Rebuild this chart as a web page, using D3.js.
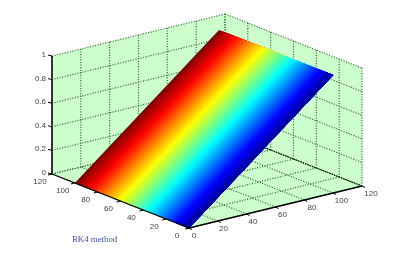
<!DOCTYPE html>
<html>
<head>
<meta charset="utf-8">
<script src="https://cdn.jsdelivr.net/npm/d3@7.9.0/dist/d3.min.js"></script>
<style>
  html, body { margin: 0; padding: 0; background: #fff; }
  svg { display: block; }
</style>
</head>
<body>
<svg width="413" height="267"></svg>
<script>
const xTicks = [0, 20, 40, 60, 80, 100, 120];
const yTicks = [0, 20, 40, 60, 80, 100, 120];
const zTicks = [0, 0.2, 0.4, 0.6, 0.8, 1];

// surface corners: x runs 0-100, y runs 0-100, height follows x
const surfaceX = [0, 100];
const surfaceY = [0, 100];
const surfaceZ = [0, 1];

// jet colormap stops, low to high
const jetStops = ["#00008f", "#0000ff", "#00ffff", "#ffff00", "#ff0000", "#800000"];
const jetPos = [0, 0.11, 0.36, 0.61, 0.86, 1];
const bandCount = 64;

const root = d3.select("svg");

// the reference is a slightly soft bitmap
root.append("defs").append("filter")
  .attr("id", "soft")
  .append("feGaussianBlur")
  .attr("stdDeviation", 0.35);

const svg = root.append("g").attr("filter", "url(#soft)");

// oblique projection, front corner is the origin
const x2h = d3.scaleLinear().domain([0, 120]).range([189, 362]);
const x2v = d3.scaleLinear().domain([0, 120]).range([228, 186]);
const y2h = d3.scaleLinear().domain([0, 120]).range([0, -137]);
const y2v = d3.scaleLinear().domain([0, 120]).range([0, -54]);
const z2v = d3.scaleLinear().domain([0, 1]).range([0, -118]);

const project = (x, y, z) => [x2h(x) + y2h(y), x2v(x) + y2v(y) + z2v(z)];
const line = d3.line();
const poly = pts => line(pts) + "Z";

const color = d3.scaleLinear().domain(jetPos).range(jetStops).clamp(true);

// walls and floor
const walls = svg.append("g").attr("fill", "#ccffcc").attr("stroke", "none");
walls.append("path").attr("d", poly([project(0, 120, 0), project(120, 120, 0), project(120, 120, 1), project(0, 120, 1)]));
walls.append("path").attr("d", poly([project(120, 120, 0), project(120, 0, 0), project(120, 0, 1), project(120, 120, 1)]));
walls.append("path").attr("d", poly([project(0, 0, 0), project(120, 0, 0), project(120, 120, 0), project(0, 120, 0)]));

// dotted grid
const gridLines = [];
xTicks.forEach(t => {
  gridLines.push([project(t, 0, 0), project(t, 120, 0)]);
  gridLines.push([project(t, 120, 0), project(t, 120, 1)]);
});
yTicks.forEach(t => {
  gridLines.push([project(0, t, 0), project(120, t, 0)]);
  gridLines.push([project(120, t, 0), project(120, t, 1)]);
});
zTicks.forEach(t => {
  gridLines.push([project(0, 120, t), project(120, 120, t)]);
  gridLines.push([project(120, 120, t), project(120, 0, t)]);
});
svg.append("g")
  .selectAll("path")
  .data(gridLines)
  .enter()
  .append("path")
  .attr("d", d => line(d))
  .attr("fill", "none")
  .attr("stroke", "#3a6a3a")
  .attr("stroke-width", 1.2)
  .attr("stroke-dasharray", "1.1 1.5");

// back floor edge sits under the surface
svg.append("path")
  .attr("d", line([project(120, 0, 0), project(120, 120, 0)]))
  .attr("fill", "none")
  .attr("stroke", "#000")
  .attr("stroke-width", 1.1)
  .attr("stroke-dasharray", "1.2 1.2");

// surface, each band runs down to y=0 so no seams show between them
const yMin = surfaceY[0], yMax = surfaceY[1];
const bands = d3.range(bandCount).map(i => i / bandCount);
svg.append("g")
  .selectAll("path")
  .data(bands.slice().reverse())
  .enter()
  .append("path")
  .attr("d", f => {
    const yTop = yMin + (yMax - yMin) * (f + 1 / bandCount);
    return poly([
      project(surfaceX[0], yMin, surfaceZ[0]),
      project(surfaceX[1], yMin, surfaceZ[1]),
      project(surfaceX[1], yTop, surfaceZ[1]),
      project(surfaceX[0], yTop, surfaceZ[0])
    ]);
  })
  .attr("fill", f => color(f + 0.5 / bandCount));

// axis lines
const axes = svg.append("g").attr("fill", "none").attr("stroke", "#000");
axes.append("path").attr("d", line([project(0, 120, 0), project(0, 120, 1)])).attr("stroke-width", 1.5);
axes.append("path").attr("d", line([project(0, 120, 0), project(0, 0, 0)])).attr("stroke-width", 1.3);
axes.append("path").attr("d", line([project(0, 0, 0), project(120, 0, 0)])).attr("stroke-width", 1.3);

// tick marks
const tickMarks = [];
zTicks.forEach(t => {
  const p = project(0, 120, t);
  tickMarks.push([p, [p[0] - 4, p[1] - 1]]);
});
yTicks.forEach(t => {
  const p = project(0, t, 0);
  tickMarks.push([p, [p[0] - 4, p[1] + 1]]);
});
xTicks.forEach(t => {
  const p = project(t, 0, 0);
  tickMarks.push([p, [p[0] + 3, p[1] + 1.5]]);
});
axes.selectAll("path.tick")
  .data(tickMarks)
  .enter()
  .append("path")
  .attr("class", "tick")
  .attr("d", d => line(d))
  .attr("stroke-width", 1);

// tick labels
const labels = svg.append("g")
  .attr("font-family", "'Liberation Sans', Arial, sans-serif")
  .attr("font-size", 8)
  .attr("fill", "#444");

labels.selectAll("text.z")
  .data(zTicks)
  .enter()
  .append("text")
  .attr("class", "z")
  .attr("text-anchor", "end")
  .attr("x", d => project(0, 120, d)[0] - 6)
  .attr("y", d => project(0, 120, d)[1] + 1)
  .text(d => d);

labels.selectAll("text.y")
  .data(yTicks)
  .enter()
  .append("text")
  .attr("class", "y")
  .attr("text-anchor", "middle")
  .attr("x", d => project(0, d, 0)[0] - 12)
  .attr("y", d => project(0, d, 0)[1] + 9.5)
  .text(d => d);

labels.selectAll("text.x")
  .data(xTicks)
  .enter()
  .append("text")
  .attr("class", "x")
  .attr("text-anchor", "middle")
  .attr("x", d => project(d, 0, 0)[0] + 5 + d / 30)
  .attr("y", d => project(d, 0, 0)[1] + 10)
  .text(d => d);

svg.append("text")
  .attr("x", 72)
  .attr("y", 242)
  .attr("font-family", "'Liberation Serif', 'Times New Roman', serif")
  .attr("font-size", 8.8)
  .attr("fill", "#3f4fa0")
  .text("RK4 method");
</script>
</body>
</html>
